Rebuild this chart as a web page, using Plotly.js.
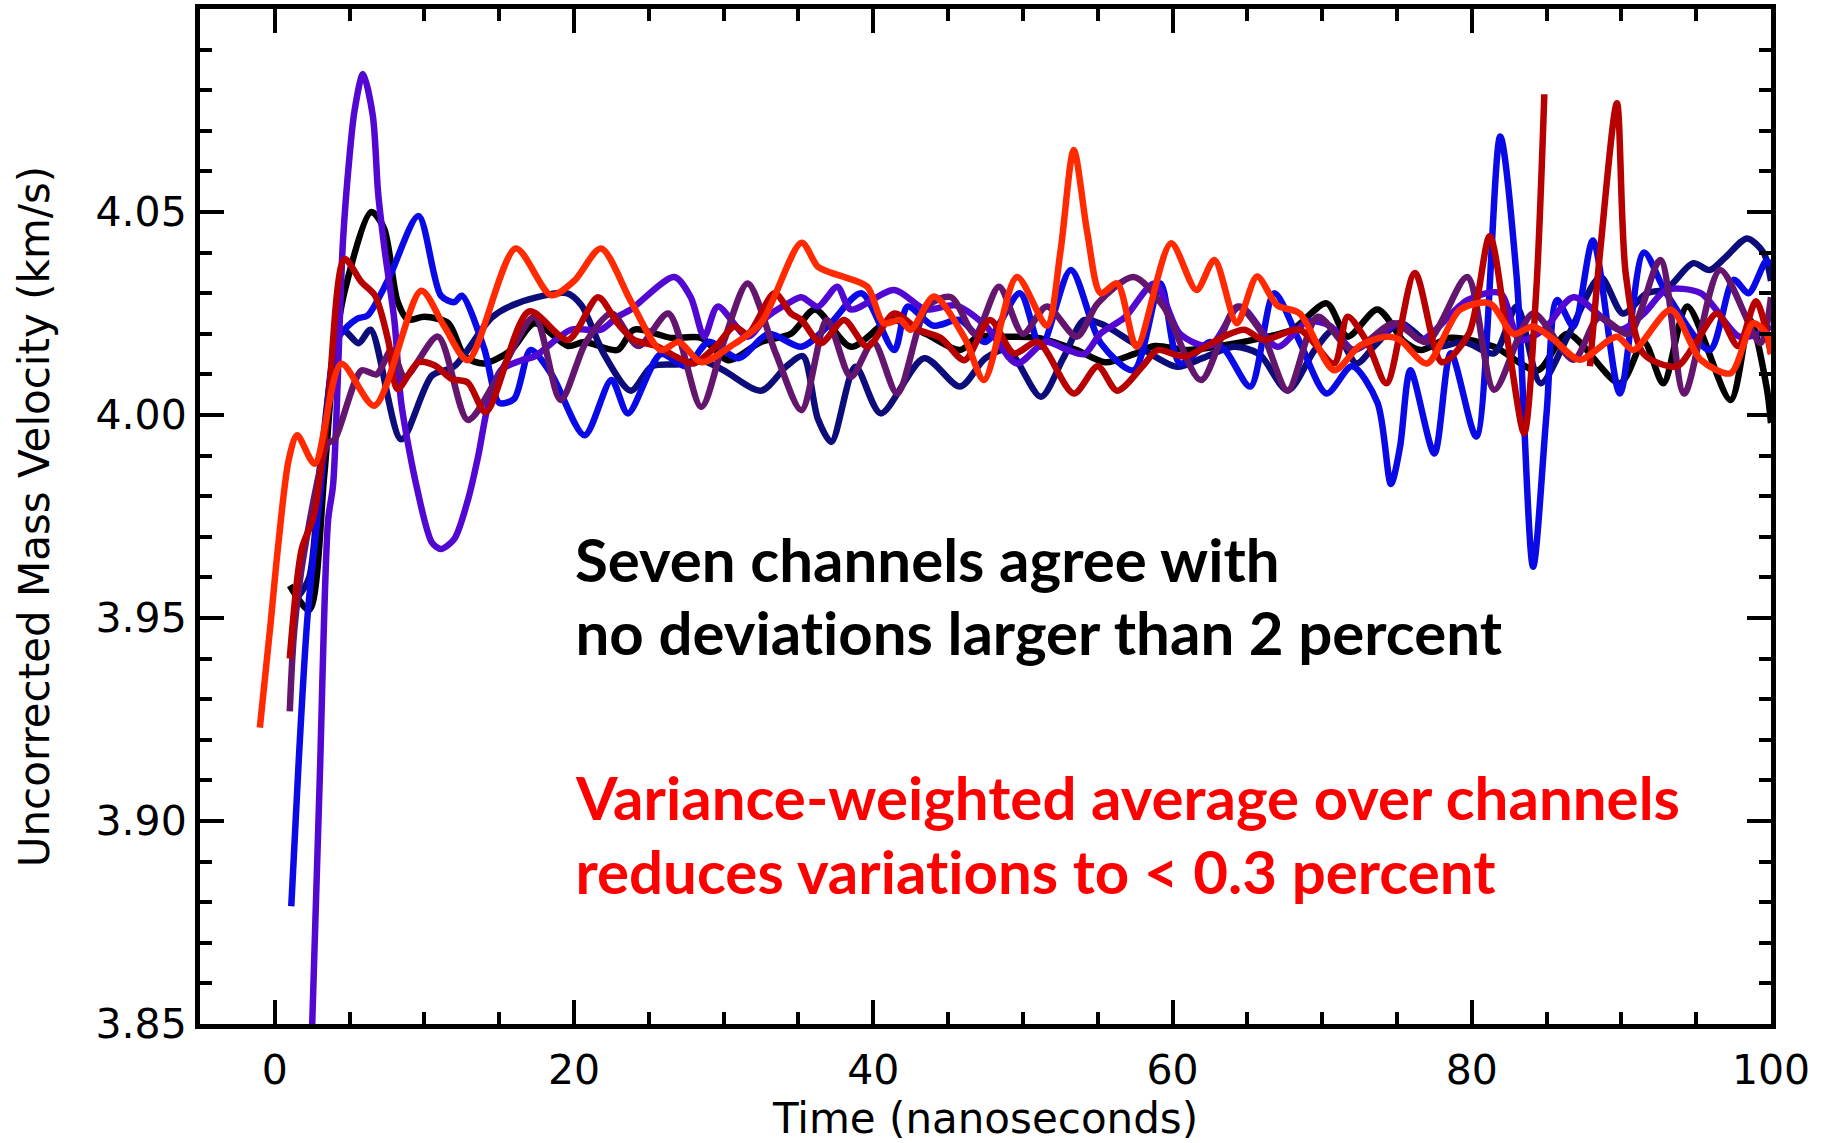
<!DOCTYPE html>
<html>
<head>
<meta charset="utf-8">
<script src="https://cdn.plot.ly/plotly-3.0.1.min.js"></script>
<style>
  html, body { margin: 0; padding: 0; background: #ffffff; }
  #chart { width: 1825px; height: 1143px; }
  #chart text { font-variant-ligatures: none; font-feature-settings: "liga" 0; }
</style>
</head>
<body>
<div id="chart"></div>
<script>
// ---- Data (time in ns, velocity in km/s) ----
const tBlack = [1.0, 2.3, 3.3, 4.0, 4.7, 6.45, 7.3, 8.2, 8.9, 10.0, 11.6, 12.7, 14.0, 15.8, 17.35, 19.6, 20.7, 22.9, 24.0, 26.5, 28.5, 30.3, 32.5, 34.5, 36.1, 38.5, 41.2, 43.5, 45.8, 47.0, 48.5, 51.0, 53.6, 55.5, 57.4, 58.8, 61.0, 63.2, 66.0, 68.0, 70.3, 71.7, 73.7, 75.5, 76.6, 78.6, 81.5, 84.4, 86.4, 89.9, 91.5, 92.8, 94.4, 97.3, 98.6, 99.7, 100];
const vBlack = [3.958, 3.952, 3.985, 4.016, 4.031, 4.050, 4.046, 4.028, 4.0235, 4.0242, 4.0226, 4.0144, 4.0127, 4.016, 4.0226, 4.017, 4.018, 4.016, 4.021, 4.019, 4.019, 4.0135, 4.018, 4.020, 4.026, 4.0168, 4.0234, 4.020, 4.016, 4.0193, 4.0193, 4.019, 4.016, 4.013, 4.015, 4.017, 4.016, 4.017, 4.019, 4.021, 4.0275, 4.0193, 4.026, 4.018, 4.016, 4.019, 4.0168, 4.011, 4.020, 4.0078, 4.018, 4.0078, 4.0267, 4.0037, 4.0234, 4.007, 3.998];

const tNavy = [1.5, 2.3, 3.1, 4.5, 5.6, 6.4, 8.45, 10.5, 12.0, 14.5, 16.2, 19.5, 20.5, 22.0, 23.8, 25.2, 27.0, 28.5, 30.0, 32.5, 34.2, 35.3, 36.3, 37.2, 38.8, 40.5, 43.4, 45.8, 47.5, 49.0, 51.2, 52.7, 54.1, 55.5, 57.4, 60.3, 62.0, 64.1, 65.8, 67.7, 69.5, 70.8, 72.3, 73.5, 75.2, 77.5, 79.5, 81.5, 83.0, 84.6, 86.5, 88.6, 90.1, 91.7, 93.0, 94.8, 95.9, 97.0, 98.4, 99.5, 100];
const vNavy = [3.955, 3.960, 3.990, 4.021, 4.0177, 4.021, 3.994, 4.0097, 4.012, 4.024, 4.0275, 4.030, 4.027, 4.015, 4.006, 4.012, 4.0125, 4.0135, 4.011, 4.006, 4.012, 4.0145, 3.999, 3.9934, 4.0119, 4.0004, 4.014, 4.007, 4.014, 4.016, 4.0045, 4.014, 4.0234, 4.022, 4.0177, 4.0119, 4.014, 4.0168, 4.015, 4.006, 4.016, 4.021, 4.0127, 4.017, 4.0226, 4.0168, 4.018, 4.0152, 4.0267, 4.0078, 4.020, 4.034, 4.025, 4.030, 4.031, 4.0374, 4.0357, 4.039, 4.0435, 4.040, 4.033];

const tBlue = [1.1, 1.6, 2.2, 3.1, 4.2, 5.5, 6.2, 7.6, 9.6, 11.1, 12.0, 12.5, 14.0, 15.0, 16.0, 17.1, 18.5, 20.7, 22.5, 23.6, 25.8, 27.5, 29.0, 31.0, 33.0, 35.2, 37.0, 39.2, 41.4, 42.3, 44.0, 45.8, 47.5, 49.8, 51.2, 53.2, 55.2, 57.4, 59.2, 60.5, 62.5, 63.5, 65.2, 66.8, 68.5, 70.3, 72.0, 73.7, 74.6, 75.2, 75.9, 77.5, 78.6, 80.3, 81.9, 83.0, 84.1, 85.0, 85.7, 86.8, 88.1, 89.9, 91.5, 93.0, 95.9, 97.5, 98.5, 99.7, 100];
const vBlue = [3.879, 3.915, 3.951, 3.983, 4.0187, 4.0237, 4.0245, 4.0335, 4.049, 4.0294, 4.0278, 4.0294, 4.0163, 4.003, 4.004, 4.016, 4.010, 3.995, 4.0086, 4.0004, 4.015, 4.012, 4.018, 4.014, 4.020, 4.0168, 4.022, 4.030, 4.016, 4.0267, 4.022, 4.0234, 4.018, 4.030, 4.0168, 4.0357, 4.0177, 4.011, 4.0324, 4.0127, 4.018, 4.016, 4.007, 4.030, 4.018, 4.0053, 4.012, 4.003, 3.983, 3.992, 4.011, 3.9905, 4.0152, 3.9947, 4.0686, 4.034, 3.9626, 4.0004, 4.0283, 4.0218, 4.043, 4.0053, 4.040, 4.030, 4.016, 4.0333, 4.030, 4.038, 4.037];

const tViolet = [2.5, 3.0, 3.56, 3.9, 4.55, 5.0, 5.33, 5.89, 6.55, 6.9, 7.33, 8.0, 8.45, 9.5, 10.5, 11.1, 12.0, 12.9, 13.6, 14.2, 15.1, 16.5, 17.35, 19.8, 21.8, 22.9, 23.8, 26.7, 27.8, 28.7, 29.6, 31.6, 32.9, 34.3, 35.2, 36.3, 37.6, 38.5, 41.4, 43.5, 45.5, 47.5, 49.6, 51.5, 53.0, 54.1, 55.2, 56.8, 58.8, 60.5, 62.5, 64.5, 67.0, 69.0, 70.5, 72.1, 73.5, 75.2, 76.6, 79.7, 81.9, 83.2, 84.8, 86.8, 89.9, 91.5, 93.0, 95.3, 97.9, 99.5, 100];
const vViolet = [3.85, 3.91, 3.974, 3.983, 4.0425, 4.064, 4.075, 4.084, 4.0737, 4.0549, 4.041, 4.023, 4.003, 3.982, 3.9686, 3.967, 3.9695, 3.979, 3.990, 4.0015, 4.011, 4.0135, 4.0144, 4.021, 4.021, 4.0242, 4.026, 4.034, 4.029, 4.0193, 4.0267, 4.0193, 4.0242, 4.0275, 4.029, 4.0267, 4.0316, 4.026, 4.0308, 4.026, 4.027, 4.022, 4.0127, 4.018, 4.016, 4.015, 4.0201, 4.024, 4.0324, 4.020, 4.017, 4.0267, 4.0168, 4.023, 4.022, 4.016, 4.019, 4.0226, 4.0185, 4.0283, 4.030, 4.0185, 4.021, 4.029, 4.021, 4.025, 4.0308, 4.030, 4.0193, 4.0205, 4.022];

const tPurple = [1.0, 1.3, 2.0, 3.55, 4.0, 5.8, 6.8, 7.8, 8.7, 10.9, 12.9, 15.0, 17.35, 19.1, 20.8, 22.5, 24.3, 26.3, 28.5, 30.0, 31.6, 33.5, 35.2, 36.9, 38.5, 40.0, 41.6, 43.6, 45.2, 46.8, 48.4, 50.0, 51.6, 53.6, 55.0, 57.4, 59.4, 61.9, 64.3, 66.0, 67.7, 69.7, 72.0, 74.8, 77.0, 79.7, 81.5, 84.1, 86.8, 88.5, 90.5, 92.6, 94.2, 96.6, 99.3, 100];
const vPurple = [3.927, 3.947, 3.967, 3.993, 3.994, 4.011, 4.010, 4.016, 4.0094, 4.0193, 3.9988, 4.010, 4.0242, 4.0037, 4.018, 4.025, 4.017, 4.025, 4.002, 4.018, 4.0324, 4.015, 4.0012, 4.0234, 4.0094, 4.018, 4.0053, 4.0267, 4.029, 4.020, 4.0316, 4.020, 4.0267, 4.0193, 4.0275, 4.034, 4.0267, 4.0086, 4.0267, 4.020, 4.006, 4.0242, 4.016, 4.0226, 4.018, 4.034, 4.0062, 4.025, 4.0136, 4.024, 4.020, 4.0382, 4.0053, 4.0357, 4.0177, 4.029];

const tDarkRed = [1.0, 1.8, 2.6, 3.5, 4.66, 5.8, 6.7, 7.6, 8.2, 9.6, 10.7, 11.8, 12.9, 14.1, 17.0, 19.6, 21.6, 22.9, 24.0, 25.5, 27.0, 28.0, 29.5, 30.7, 31.6, 33.4, 34.5, 35.2, 36.5, 38.05, 39.6, 41.4, 43.0, 44.5, 46.1, 47.8, 49.4, 51.0, 53.4, 55.0, 56.3, 58.0, 59.0, 60.8, 63.4, 64.8, 66.1, 68.5, 70.8, 71.7, 73.0, 74.3, 76.2, 78.0, 79.8, 81.2, 82.5, 83.5, 84.3, 84.85, 86.5, 87.9, 88.6, 89.7, 90.3, 91.5, 93.7, 95.0, 96.4, 97.8, 99.0, 100];
const vDarkRed = [3.940, 3.967, 3.975, 4.000, 4.0384, 4.0327, 4.0294, 4.018, 4.0064, 4.013, 4.0122, 4.0089, 4.008, 4.0007, 4.0255, 4.0185, 4.029, 4.0226, 4.0185, 4.017, 4.014, 4.0127, 4.017, 4.0218, 4.020, 4.030, 4.025, 4.0234, 4.0177, 4.0234, 4.0168, 4.025, 4.021, 4.019, 4.0135, 4.0234, 4.0152, 4.018, 4.0053, 4.012, 4.006, 4.012, 4.016, 4.0144, 4.0193, 4.021, 4.0185, 4.021, 4.0127, 4.0242, 4.018, 4.0078, 4.035, 4.013, 4.020, 4.044, 4.016, 3.9955, 4.030, 4.079, null, 4.012, 4.041, 4.0768, 4.0345, 4.015, 4.012, 4.018, 4.025, 4.017, 4.028, 4.015];

const tRed = [-1.0, -0.3, 0.23, 0.93, 1.5, 2.66, 4.44, 6.66, 9.78, 11.3, 12.9, 16.1, 18.46, 20.0, 21.8, 23.8, 25.8, 27.0, 28.5, 30.5, 32.5, 35.2, 36.3, 37.2, 38.05, 39.6, 40.7, 41.8, 42.5, 44.06, 46.1, 47.4, 49.6, 51.6, 52.5, 53.4, 54.3, 55.2, 56.3, 57.6, 59.9, 61.6, 62.8, 64.3, 65.65, 67.0, 68.5, 70.8, 72.5, 74.3, 75.2, 77.0, 79.2, 81.2, 82.8, 84.1, 85.5, 87.2, 89.7, 90.8, 93.3, 95.3, 97.3, 98.8, 99.7, 100];
const vRed = [3.923, 3.948, 3.968, 3.989, 3.995, 3.988, 4.0126, 4.0023, 4.0306, 4.022, 4.0135, 4.041, 4.0295, 4.033, 4.041, 4.028, 4.016, 4.018, 4.013, 4.017, 4.0227, 4.0424, 4.0365, 4.035, 4.034, 4.0316, 4.0226, 4.0234, 4.021, 4.0292, 4.019, 4.0086, 4.034, 4.022, 4.040, 4.0653, 4.045, 4.030, 4.0324, 4.0168, 4.0423, 4.0308, 4.0382, 4.0226, 4.0341, 4.027, 4.025, 4.011, 4.017, 4.0193, 4.0185, 4.0127, 4.0259, 4.0275, 4.020, 4.0218, 4.0185, 4.0136, 4.0193, 4.016, 4.0259, 4.0136, 4.0103, 4.0226, 4.020, 4.015];

const xTickVals = [0, 20, 40, 60, 80, 100];
const yTickVals = [3.85, 3.90, 3.95, 4.00, 4.05];
const yTickText = ["3.85", "3.90", "3.95", "4.00", "4.05"];

const noteLines = [
  {text: "Seven channels agree with", color: "#000000"},
  {text: "no deviations larger than 2 percent", color: "#000000"},
  {text: "Variance-weighted average over channels", color: "#ff0000"},
  {text: "reduces variations to < 0.3 percent", color: "#ff0000"}
];

// ---- Traces ----
function series(t, v, color) {
  return {
    x: t, y: v, type: "scatter", mode: "lines",
    line: {color: color, width: 6.5, shape: "spline", smoothing: 0.8},
    connectgaps: false, hoverinfo: "skip", showlegend: false
  };
}
const data = [
  series(tBlack, vBlack, "#000000"),
  series(tNavy, vNavy, "#0c0c7a"),
  series(tBlue, vBlue, "#0a0ae6"),
  series(tViolet, vViolet, "#5208d2"),
  series(tPurple, vPurple, "#64166e"),
  series(tDarkRed, vDarkRed, "#b80000"),
  series(tRed, vRed, "#ff2a00")
];

const tickFont = {family: "DejaVu Sans, sans-serif", size: 41, color: "#000000"};
const titleFont = {family: "DejaVu Sans, sans-serif", size: 42, color: "#000000"};

const noteY = [559, 632, 797, 871]; // pixel centres of the four text lines
const plotTop = 9, plotBottom = 1024, plotLeft = 200, plotRight = 1771;
const annotations = noteLines.map((ln, i) => ({
  text: ln.text,
  xref: "paper", yref: "paper",
  x: (573 - plotLeft) / (plotRight - plotLeft),
  y: (plotBottom - noteY[i]) / (plotBottom - plotTop),
  xanchor: "left", yanchor: "middle",
  showarrow: false,
  font: {family: "Lato, 'Open Sans', sans-serif", size: 60, weight: 700, color: ln.color}
}));

const layout = {
  width: 1825, height: 1143,
  margin: {l: plotLeft, r: 1825 - plotRight, t: plotTop, b: 1143 - plotBottom},
  paper_bgcolor: "#ffffff", plot_bgcolor: "#ffffff",
  showlegend: false,
  xaxis: {
    range: [-5, 100],
    tickmode: "array", tickvals: xTickVals,
    ticks: "inside", ticklen: 24, tickwidth: 4, tickcolor: "#000000",
    minor: {ticks: "inside", dtick: 5, tick0: 0, ticklen: 12, tickwidth: 4, tickcolor: "#000000", showgrid: false},
    showline: true, linewidth: 5, linecolor: "#000000", mirror: "ticks",
    showgrid: false, zeroline: false,
    tickfont: tickFont, ticklabelstandoff: 6,
    title: {text: "Time (nanoseconds)", font: titleFont, standoff: 26}
  },
  yaxis: {
    range: [3.85, 4.10],
    tickmode: "array", tickvals: yTickVals, ticktext: yTickText,
    ticks: "inside", ticklen: 24, tickwidth: 4, tickcolor: "#000000",
    minor: {ticks: "inside", dtick: 0.01, tick0: 3.85, ticklen: 12, tickwidth: 4, tickcolor: "#000000", showgrid: false},
    showline: true, linewidth: 5, linecolor: "#000000", mirror: "ticks",
    showgrid: false, zeroline: false,
    tickfont: tickFont, ticklabelstandoff: 0,
    title: {text: "Uncorrected Mass Velocity (km/s)", font: titleFont, standoff: 34}
  },
  annotations: annotations
};

Plotly.newPlot("chart", data, layout, {displayModeBar: false, staticPlot: true});
</script>
</body>
</html>
